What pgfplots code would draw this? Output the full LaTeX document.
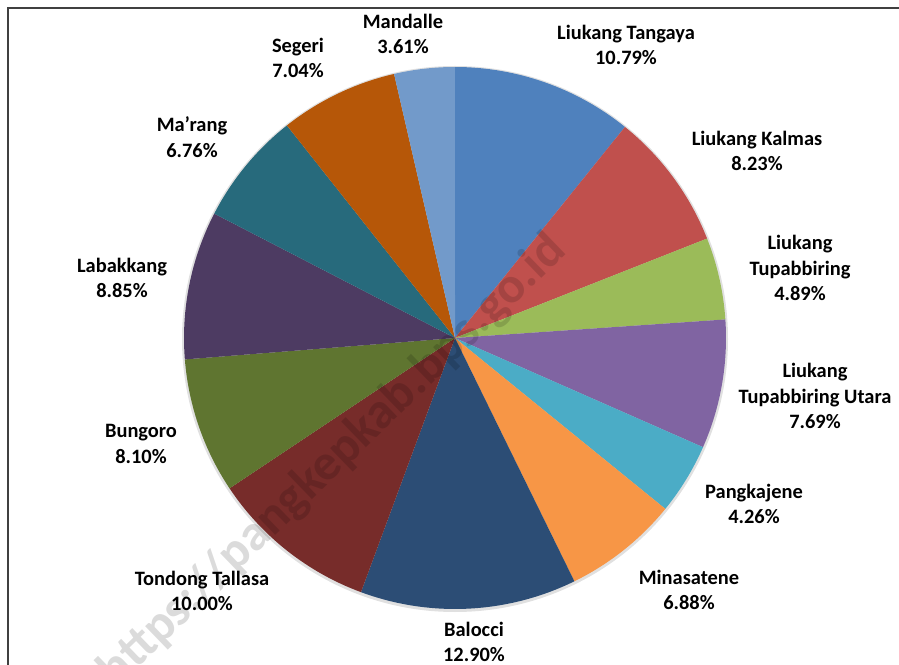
\documentclass[border=0pt]{standalone}
\usepackage{pgfplots}
\pgfplotsset{compat=1.18}
\usepackage{fontspec}
\setmainfont{Carlito}
\definecolor{c1}{HTML}{4F81BD}
\definecolor{c2}{HTML}{C0504D}
\definecolor{c3}{HTML}{9BBB59}
\definecolor{c4}{HTML}{8064A2}
\definecolor{c5}{HTML}{4BACC6}
\definecolor{c6}{HTML}{F79646}
\definecolor{c7}{HTML}{2C4D75}
\definecolor{c8}{HTML}{772C2A}
\definecolor{c9}{HTML}{5F7530}
\definecolor{c10}{HTML}{4D3B62}
\definecolor{c11}{HTML}{276A7C}
\definecolor{c12}{HTML}{B65708}
\definecolor{c13}{HTML}{729ACA}
\newcommand{\cx}{455}
\newcommand{\cy}{327}
\newcommand{\R}{271}
% #1 colour, #2 cumulative share before the slice, #3 share of the slice (percent)
\newcommand{\slice}[3]{\fill[#1] (axis cs:\cx,\cy) -- (axis cs:{\cx+\R*cos(90-3.6*(#2))},{\cy+\R*sin(90-3.6*(#2))}) arc[start angle={90-3.6*(#2)}, end angle={90-3.6*(#2+#3)}, radius=\R bp] -- cycle;}
\newcommand{\lbl}[3]{\node[align=center, font=\bfseries\fontsize{20.5}{25.5}\selectfont, inner sep=0pt] at (axis cs:#1,{665-#2}) {#3};}
\begin{document}
\begin{tikzpicture}
\useasboundingbox (0,0) rectangle (899bp,665bp);
\begin{axis}[x=1bp, y=1bp, xmin=0, xmax=899, ymin=0, ymax=665, hide axis, clip=false, at={(0,0)}, anchor=origin]
\draw[line width=1.5bp, black!75] (axis cs:8,-20) -- (axis cs:8,657) -- (axis cs:905,657);
\fill[black, opacity=0.12] (axis cs:\cx,{\cy-1}) circle[radius=273bp];
\slice{c1}{0}{10.79}
\slice{c2}{10.79}{8.23}
\slice{c3}{19.02}{4.89}
\slice{c4}{23.91}{7.69}
\slice{c5}{31.60}{4.26}
\slice{c6}{35.86}{6.88}
\slice{c7}{42.74}{12.90}
\slice{c8}{55.64}{10.00}
\slice{c9}{65.64}{8.10}
\slice{c10}{73.74}{8.85}
\slice{c11}{82.59}{6.76}
\slice{c12}{89.35}{7.04}
\slice{c13}{96.39}{3.61}
\lbl{626}{45}{Liukang Tangaya\\10.79\%}
\lbl{757}{151}{Liukang Kalmas\\8.23\%}
\lbl{800}{268}{Liukang\\Tupabbiring\\4.89\%}
\lbl{815}{396}{Liukang\\Tupabbiring Utara\\7.69\%}
\lbl{754}{504}{Pangkajene\\4.26\%}
\lbl{689}{590}{Minasatene\\6.88\%}
\lbl{474}{642}{Balocci\\12.90\%}
\lbl{202}{591}{Tondong Tallasa\\10.00\%}
\lbl{141}{444}{Bungoro\\8.10\%}
\lbl{122}{278}{Labakkang\\8.85\%}
\lbl{192}{137}{Ma’rang\\6.76\%}
\lbl{298}{58}{Segeri\\7.04\%}
\lbl{403}{34}{Mandalle\\3.61\%}
\node[rotate=44, opacity=0.14, font=\bfseries\fontsize{51}{51}\selectfont, inner sep=0pt] at (axis cs:333,{665-461}) {https://pangkepkab.bps.go.id};
\end{axis}
\end{tikzpicture}
\end{document}
